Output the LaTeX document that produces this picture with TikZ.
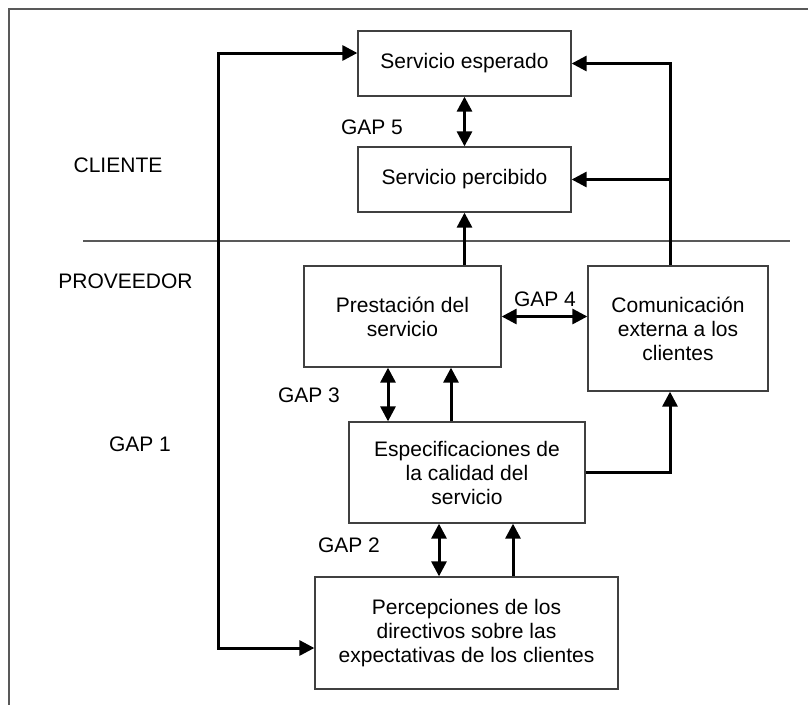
\documentclass[tikz,border=0pt]{standalone}
\usepackage{fontspec}
\setmainfont{Liberation Sans}
\usepackage{tikz}
\usetikzlibrary{arrows.meta}

\tikzset{
  >={Triangle[length=15pt,width=15pt]},
  caja/.style={draw=black!75, line width=1.3pt, inner sep=0pt, align=center},
  flecha/.style={line width=3pt},
  borde/.style={black!65, line width=1.2pt}
}

\begin{document}
\begin{tikzpicture}[x=1pt, y=-1pt, font=\fontsize{21}{24}\selectfont]
    \useasboundingbox (0,0) rectangle (808,705);
    \draw[borde] (8,9) -- (808,9);
    \draw[borde] (9,9) -- (9,705);
    \draw[borde] (83,241) -- (790,241);

    \node[caja, minimum width=213pt, minimum height=65pt] (esperado) at (464.5,63.5) {Servicio esperado};
    \node[caja, minimum width=213pt, minimum height=65pt] (percibido) at (464.5,179.5) {Servicio percibido};
    \node[caja, minimum width=197pt, minimum height=101pt] (prestacion) at (402.5,316.5) {Prestación del\\servicio};
    \node[caja, minimum width=180pt, minimum height=125pt] (comunicacion) at (678,328.5) {Comunicación\\externa a los\\clientes};
    \node[caja, minimum width=236pt, minimum height=101pt] (especificaciones) at (467,472.5) {Especificaciones de\\la calidad del\\servicio};
    \node[caja, minimum width=303pt, minimum height=112pt] (percepciones) at (466.5,633) {Percepciones de los\\directivos sobre las\\expectativas de los clientes};

    \node (cliente) at (118,165) {CLIENTE};
    \node (proveedor) at (125.5,281) {PROVEEDOR};
    \node (gap5) at (372,127) {GAP 5};
    \node (gap4) at (545,299) {GAP 4};
    \node (gap3) at (309,395) {GAP 3};
    \node (gap2) at (349,545) {GAP 2};
    \node (gap1) at (140,444) {GAP 1};

    \coordinate (derecha) at (670,0);
    \coordinate (izquierda) at (218,350);
    \coordinate (g3) at (388,395);
    \coordinate (s3) at (451,395);
    \coordinate (g2) at (439,550);
    \coordinate (s2) at (513,550);

    \draw[flecha,<->] (esperado.south) -- (percibido.north);
    \draw[flecha,->] (derecha |- comunicacion.north) |- (esperado.east);
    \draw[flecha,->] (derecha |- percibido.east) -- (percibido.east);
    \draw[flecha,->] (prestacion.north -| percibido.south) -- (percibido.south);
    \draw[flecha,<->] (prestacion.east) -- (prestacion.east -| comunicacion.west);
    \draw[flecha,<->] (g3 |- prestacion.south) -- (g3 |- especificaciones.north);
    \draw[flecha,->] (s3 |- especificaciones.north) -- (s3 |- prestacion.south);
    \draw[flecha,->] (especificaciones.east) -| (derecha |- comunicacion.south);
    \draw[flecha,<->] (g2 |- especificaciones.south) -- (g2 |- percepciones.north);
    \draw[flecha,->] (s2 |- percepciones.north) -- (s2 |- especificaciones.south);
    \draw[flecha,<->] ([yshift=10.5pt]esperado.west) -| (izquierda) |- ([yshift=-15pt]percepciones.west);
\end{tikzpicture}
\end{document}
